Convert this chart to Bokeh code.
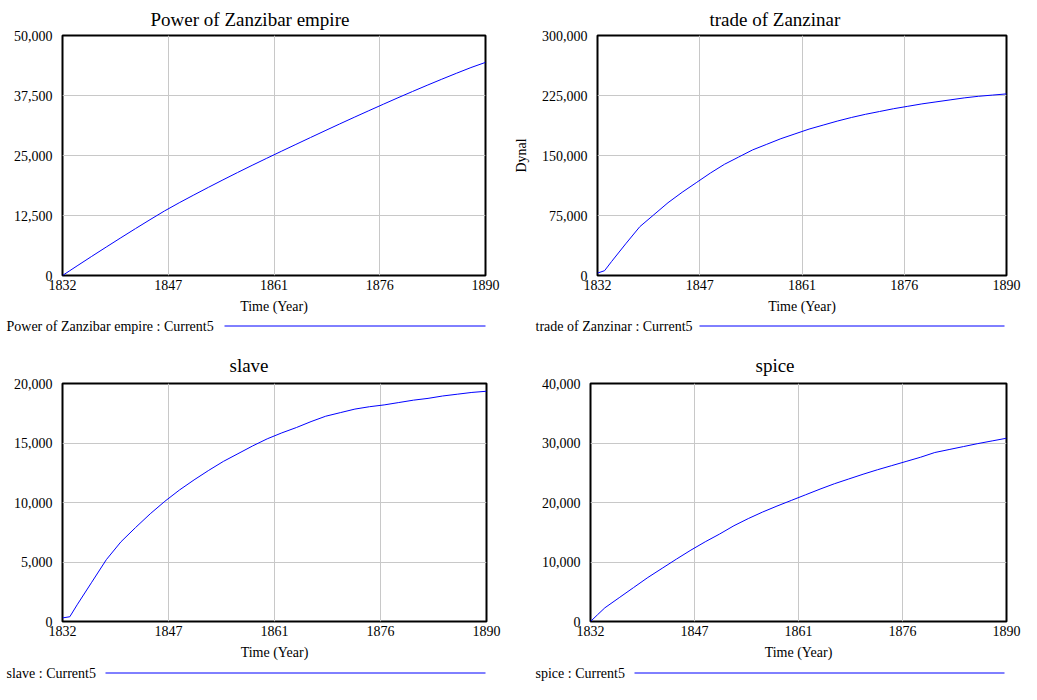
from bokeh.plotting import figure
from bokeh.models import Range1d, FixedTicker, NumeralTickFormatter, Label, ColumnDataSource
from bokeh.layouts import column, row
from bokeh.embed import file_html
from bokeh.resources import INLINE

# ---- data ----
years = [1832, 1833, 1834, 1836, 1838, 1840, 1842, 1844, 1846, 1848, 1850,
         1852, 1854, 1856, 1858, 1860, 1862, 1864, 1866, 1868, 1870,
         1872, 1874, 1876, 1878, 1880, 1882, 1884, 1886, 1888, 1890]

power = [0, 1000, 2000, 3980, 5930, 7860, 9760, 11630, 13460, 15150, 16770,
         18360, 19920, 21450, 22950, 24420, 25870, 27310, 28740, 30160, 31570,
         32960, 34330, 35690, 37030, 38340, 39630, 40890, 42120, 43320, 44400]

trade = [3000, 6000, 17500, 39600, 61000, 76000, 91000, 104000, 116000, 128000, 139000,
         148000, 157000, 164000, 171000, 177000, 183000, 188000, 193000, 197500, 201500,
         205000, 208500, 211500, 214500, 217000, 219500, 222000, 224000, 225500, 227000]

slave = [300, 400, 1400, 3300, 5200, 6700, 7900, 9050, 10100, 11050, 11900,
         12700, 13450, 14100, 14750, 15350, 15850, 16300, 16800, 17250, 17550,
         17850, 18050, 18200, 18400, 18600, 18750, 18950, 19100, 19250, 19350]

spice = [0, 1160, 2300, 4000, 5700, 7400, 8950, 10500, 12000, 13400, 14700,
         16100, 17300, 18400, 19400, 20350, 21300, 22250, 23150, 23950, 24750,
         25500, 26200, 26900, 27600, 28400, 28900, 29400, 29900, 30350, 30800]

x_ticks = [1832, 1846.5, 1861, 1875.5, 1890]
x_tick_labels = ["1832", "1847", "1861", "1876", "1890"]

power_ticks = [0, 12500, 25000, 37500, 50000]
trade_ticks = [0, 75000, 150000, 225000, 300000]
slave_ticks = [0, 5000, 10000, 15000, 20000]
spice_ticks = [0, 10000, 20000, 30000, 40000]

titles = ["Power of Zanzibar empire", "trade of Zanzinar", "slave", "spice"]
legend_texts = ["Power of Zanzibar empire : Current5", "trade of Zanzinar : Current5",
                "slave : Current5", "spice : Current5"]

FONT = "Liberation Serif"
BLUE = "#0000ff"


def make_panel(title, values, y_ticks, w, h, bl, br, bt, bb, title_offset,
               title_standoff, y_label=None):
    p = figure(width=w, height=h, x_range=Range1d(x_ticks[0], x_ticks[-1]),
               y_range=Range1d(y_ticks[0], y_ticks[-1]), title=title,
               output_backend="svg", toolbar_location=None,
               min_border_left=bl, min_border_right=br,
               min_border_top=bt, min_border_bottom=bb)
    p.background_fill_color = "white"
    p.border_fill_color = "white"
    p.outline_line_color = "black"
    p.outline_line_width = 2

    p.title.align = "left"
    p.title.offset = title_offset
    p.title.standoff = title_standoff
    p.title.text_font = FONT
    p.title.text_font_size = "19px"
    p.title.text_font_style = "normal"
    p.title.text_color = "black"

    src = ColumnDataSource(dict(year=years, value=values))
    p.line(x="year", y="value", source=src, line_color=BLUE, line_width=1)

    xa = p.xaxis[0]
    xa.ticker = FixedTicker(ticks=x_ticks)
    xa.major_label_overrides = dict(zip(x_ticks, x_tick_labels))
    xa.axis_label = "Time (Year)"
    ya = p.yaxis[0]
    ya.ticker = FixedTicker(ticks=y_ticks)
    ya.formatter = NumeralTickFormatter(format="0,0")
    if y_label:
        ya.axis_label = y_label
        ya.axis_label_standoff = 10
    for ax in (xa, ya):
        ax.axis_line_color = None
        ax.major_tick_out = 0
        ax.major_tick_in = 0
        ax.minor_tick_out = 0
        ax.minor_tick_in = 0
        ax.major_label_text_font = FONT
        ax.major_label_text_font_size = "14px"
        ax.major_label_text_color = "black"
        ax.axis_label_text_font = FONT
        ax.axis_label_text_font_size = "14px"
        ax.axis_label_text_font_style = "normal"
        ax.axis_label_text_color = "black"
    xa.major_label_standoff = 4
    xa.axis_label_standoff = 6
    ya.major_label_standoff = 10

    p.grid.grid_line_color = "#c8c8c8"
    p.grid.grid_line_width = 1
    return p


def make_legend(text, w, h, text_x, line_x0, line_x1):
    q = figure(width=w, height=h, x_range=Range1d(0, w), y_range=Range1d(0, h),
               x_axis_type=None, y_axis_type=None, title=None,
               output_backend="svg", toolbar_location=None, min_border=0)
    q.outline_line_color = None
    q.grid.visible = False
    q.background_fill_color = "white"
    q.border_fill_color = "white"
    q.add_layout(Label(x=text_x, y=h / 2, text=text, text_font=FONT, text_font_size="14px",
                       text_align="left", text_baseline="middle", text_color="black"))
    q.segment(x0=[line_x0], y0=[h / 2 + 0.5], x1=[line_x1], y1=[h / 2 + 0.5],
              line_color=BLUE, line_width=1)
    return q


p1 = make_panel(titles[0], power, power_ticks, 510, 316, 62, 25, 35, 40, 88, 11)
p2 = make_panel(titles[1], trade, trade_ticks, 511, 316, 87, 15, 34, 41, 112, 11, y_label="Dynal")
l1 = make_legend(legend_texts[0], 510, 20, 6, 224, 485)
l2 = make_legend(legend_texts[1], 511, 20, 25, 189, 494)
p3 = make_panel(titles[2], slave, slave_ticks, 510, 326, 62, 24, 47, 37, 167, 15)
p4 = make_panel(titles[3], spice, spice_ticks, 511, 326, 80, 15, 47, 39, 165, 15)
l3 = make_legend(legend_texts[2], 510, 22, 6, 105, 485)
l4 = make_legend(legend_texts[3], 511, 22, 25, 124, 494)

layout = column(row(p1, p2), row(l1, l2), row(p3, p4), row(l3, l4))
open("out.html", "w").write(file_html(layout, INLINE))
